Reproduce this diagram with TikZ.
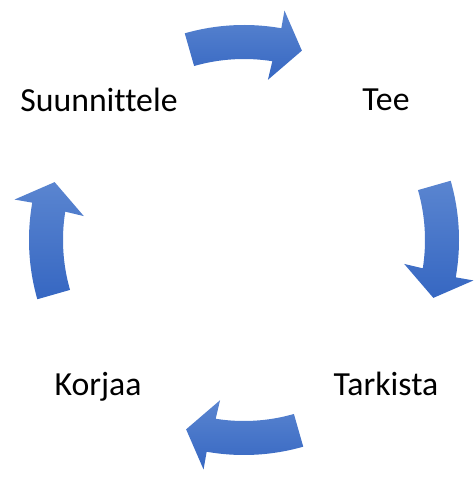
\documentclass[tikz,border=0pt]{standalone}
\usepackage{fontspec}
\setmainfont{Carlito}[Ligatures=NoCommon]
\usepackage{tikz}
\usetikzlibrary{calc}

\definecolor{arrowlight}{RGB}{90,133,208}
\definecolor{arrowdark}{RGB}{54,103,194}

\begin{document}
\begin{tikzpicture}[x=0.02cm, y=0.02cm,
        phase/.style={font=\fontsize{19.2}{23}\selectfont, anchor=base, inner sep=0pt},
        arrowshade/.style={top color=arrowlight, bottom color=arrowdark, draw=none},
        pics/cyclearrow/.style={code={
            \shade[arrowshade] (106:181) -- (106:215)
                arc[start angle=106, end angle=80, radius=215]
                -- (80:233) -- (73:198) -- (81.5:162) -- (81:181)
                arc[start angle=81, end angle=106, radius=181] -- cycle;
        }}]
        \useasboundingbox (0,0) rectangle (475,477);

        % centre of the cycle
        \coordinate (c) at (244,237);

        % phases
        \node (plan) at (99,365) [phase] {Suunnittele};
        \node (do) at (386,366) [phase] {Tee};
        \node (check) at (386,81) [phase] {Tarkista};
        \node (act) at (98,81) [phase] {Korjaa};

        % arrows, clockwise
        \pic at (c) {cyclearrow};
        \pic[rotate=-90] at (c) {cyclearrow};
        \pic[rotate=-180] at (c) {cyclearrow};
        \pic[rotate=-270] at (c) {cyclearrow};
    \end{tikzpicture}
\end{document}
